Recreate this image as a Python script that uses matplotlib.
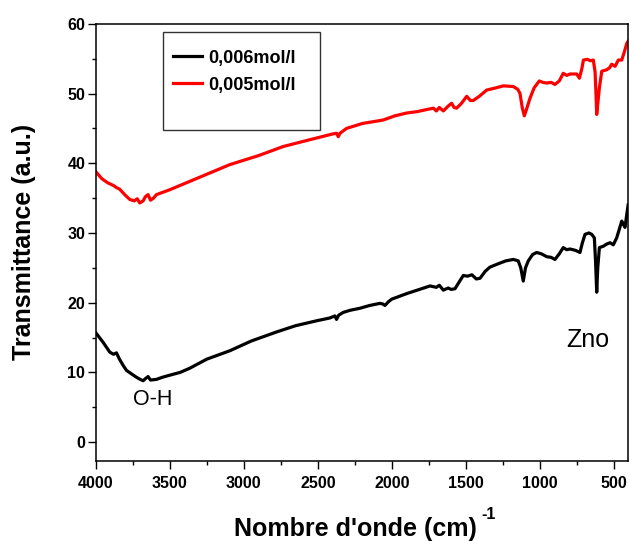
import matplotlib
matplotlib.use("Agg")
import matplotlib.pyplot as plt
from matplotlib.patches import Rectangle
from matplotlib.ticker import MultipleLocator

plt.rcParams['font.family'] = ['Liberation Sans', 'DejaVu Sans']

# sample 0,006 mol/l (black)
wn_006 = [4000, 3950, 3905, 3880, 3860, 3840, 3815, 3793, 3760, 3725, 3700, 3680,
          3665, 3647, 3630, 3590, 3550, 3500, 3430, 3365, 3250, 3095, 2950, 2779,
          2650, 2509, 2420, 2385, 2374, 2360, 2329, 2284, 2216, 2150, 2081, 2060,
          2047, 2025, 2002, 1900, 1800, 1743, 1700, 1680, 1653, 1620, 1600, 1574,
          1545, 1518, 1490, 1460, 1430, 1405, 1370, 1338, 1280, 1230, 1180, 1147,
          1130, 1113, 1098, 1079, 1050, 1023, 990, 955, 925, 899, 870, 843, 820,
          797, 760, 730, 715, 696, 670, 651, 633, 625, 617, 610, 599, 572, 550,
          527, 505, 482, 465, 448, 436, 426, 415, 405]
tr_006 = [15.7, 14.3, 12.9, 12.6, 12.8, 11.9, 11.0, 10.3, 9.8, 9.3, 9.0, 8.8,
          9.1, 9.4, 8.9, 9.0, 9.3, 9.6, 10.0, 10.6, 11.9, 13.1, 14.5, 15.8,
          16.7, 17.4, 17.8, 18.1, 17.6, 18.2, 18.6, 18.9, 19.2, 19.6, 19.9, 19.8,
          19.6, 20.1, 20.5, 21.3, 22.0, 22.4, 22.2, 22.5, 21.8, 22.1, 21.9, 22.0,
          23.0, 23.9, 23.8, 24.0, 23.4, 23.5, 24.5, 25.1, 25.6, 26.0, 26.2, 26.0,
          25.0, 23.1, 25.0, 26.0, 26.9, 27.2, 27.0, 26.6, 26.5, 26.2, 27.0, 27.9, 27.6,
          27.7, 27.5, 27.2, 28.5, 29.8, 30.0, 29.8, 29.3, 26.0, 21.5, 25.0, 27.9, 28.1, 28.4,
          28.6, 28.3, 29.3, 30.5, 31.7, 31.2, 30.8, 32.5, 34.0]

# sample 0,005 mol/l (red)
wn_005 = [4000, 3960, 3920, 3880, 3860, 3840, 3800, 3770, 3740, 3720, 3703, 3680,
          3665, 3647, 3630, 3610, 3590, 3500, 3365, 3230, 3095, 2900, 2734, 2550,
          2400, 2374, 2362, 2351, 2306, 2200, 2059, 1980, 1901, 1830, 1766, 1720,
          1700, 1680, 1653, 1620, 1597, 1580, 1563, 1530, 1495, 1470, 1451, 1410,
          1360, 1300, 1248, 1180, 1150, 1135, 1120, 1106, 1090, 1068, 1040, 1005,
          980, 955, 925, 899, 870, 843, 820, 797, 752, 734, 718, 707, 680, 660,
          640, 628, 622, 617, 610, 599, 583, 550, 530, 516, 493, 471, 448, 430,
          414, 405]
tr_005 = [38.8, 37.8, 37.2, 36.8, 36.5, 36.3, 35.4, 34.8, 34.6, 34.9, 34.3, 34.6,
          35.2, 35.5, 34.7, 35.0, 35.5, 36.2, 37.4, 38.6, 39.8, 41.1, 42.4, 43.4,
          44.2, 44.3, 43.8, 44.3, 45.0, 45.7, 46.2, 46.8, 47.2, 47.4, 47.7, 47.9,
          47.5, 48.0, 47.5, 48.2, 48.6, 48.0, 47.9, 48.6, 49.6, 49.0, 49.0, 49.6,
          50.5, 50.8, 51.1, 51.0, 50.6, 50.0, 48.0, 46.8, 47.8, 49.3, 50.8, 51.8,
          51.6, 51.5, 51.6, 51.3, 51.8, 52.9, 52.6, 52.8, 52.8, 52.2, 53.5, 54.8, 54.9, 54.7,
          54.8, 53.1, 50.0, 47.0, 48.5, 50.8, 53.2, 53.4, 53.7, 54.2, 53.9, 54.8, 54.8, 56.0,
          57.2, 57.5]

labels = ['0,006mol/l', '0,005mol/l']

fig = plt.figure(figsize=(6.3, 5.41), dpi=100)
ax = fig.add_axes([0.152, 0.148, 0.845, 0.808])

ax.plot(wn_006, tr_006, color='black', lw=2.3, label=labels[0])
ax.plot(wn_005, tr_005, color='red', lw=2.3, label=labels[1])

ax.set_xlim(4000, 405)
ax.set_ylim(-2.7, 60)
ax.xaxis.set_major_locator(MultipleLocator(500))
ax.xaxis.set_minor_locator(MultipleLocator(250))
ax.yaxis.set_major_locator(MultipleLocator(10))
ax.yaxis.set_minor_locator(MultipleLocator(5))

ax.tick_params(which='major', direction='out', length=5.5, width=1, labelsize=11.5, pad=2)
ax.tick_params(axis='x', which='major', pad=5)
ax.tick_params(which='minor', direction='out', length=2.7, width=1)
for lab in ax.get_xticklabels() + ax.get_yticklabels():
    lab.set_fontweight('bold')
for sp in ax.spines.values():
    sp.set_linewidth(1.1)

ax.set_xlabel("Nombre d'onde (cm)", fontsize=18, fontweight='bold')
ax.set_ylabel('Transmittance (a.u.)', fontsize=18, fontweight='bold')
ax.xaxis.set_label_coords(0.488, -0.128)
ax.yaxis.set_label_coords(-0.112, 0.5)
# superscript of the unit
ax.text(0.724, -0.132, '-1', transform=ax.transAxes, fontsize=11.5,
        fontweight='bold', ha='left', va='baseline')

ax.text(3615, 6.1, 'O-H', fontsize=15.5, ha='center', va='center')
ax.text(676, 14.7, 'Zno', fontsize=18, ha='center', va='center')

ax.add_patch(Rectangle((0.126, 0.757), 0.295, 0.225, transform=ax.transAxes,
                       fill=False, edgecolor='#333333', lw=1))
leg = ax.legend(loc='upper left', bbox_to_anchor=(0.145, 0.941), frameon=False,
                borderpad=0, borderaxespad=0, handlelength=1.6, handletextpad=0.35,
                labelspacing=0.55, prop={'size': 13, 'weight': 'bold'})

fig.savefig('out.png', dpi=100)
